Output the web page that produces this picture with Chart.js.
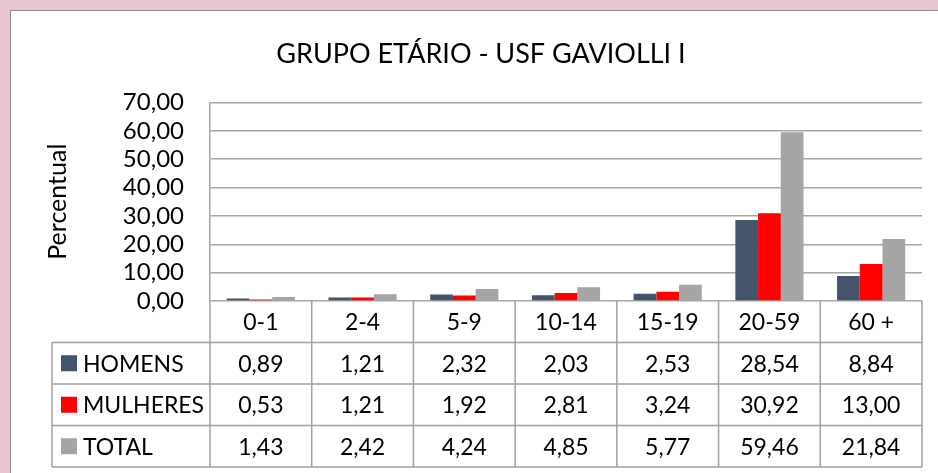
<!DOCTYPE html>
<html>
<head>
<meta charset="utf-8">
<script src="https://cdn.jsdelivr.net/npm/chart.js"></script>
<style>
  body { margin: 0; background: #e8c6d1; }
  .panel { position: absolute; left: 10px; top: 10px; width: 940px; height: 470px; background: #fff; border: 1.5px solid #8c8c8c; }
  canvas { position: absolute; left: 0; top: 0; }
</style>
</head>
<body>
<div class="panel"></div>
<canvas id="grafico" width="938" height="473"></canvas>
<script>
// dados do grafico
const faixas = ['0-1', '2-4', '5-9', '10-14', '15-19', '20-59', '60 +'];
const homens = [0.89, 1.21, 2.32, 2.03, 2.53, 28.54, 8.84];
const mulheres = [0.53, 1.21, 1.92, 2.81, 3.24, 30.92, 13.00];
const total = [1.43, 2.42, 4.24, 4.85, 5.77, 59.46, 21.84];
const series = ['HOMENS', 'MULHERES', 'TOTAL'];
const cores = ['#44546a', '#ff0000', '#a5a5a5'];

const fonte = 'Lato';
const linha = '#a6a6a6';

function fmt(v) {
    return v.toFixed(2).replace('.', ',');
}

// tabela de dados embaixo do grafico
const tabela = {
    id: 'tabela',
    afterDraw(chart) {
        const ctx = chart.ctx;
        const area = chart.chartArea;
        const x = chart.scales.x;
        const w = area.width / faixas.length;
        const rowH = 41.5;
        const top = area.bottom;
        const left = 52;
        const valores = [homens, mulheres, total];

        ctx.save();
        ctx.strokeStyle = '#a0a0a0';
        ctx.lineWidth = 1.5;
        ctx.beginPath();
        // horizontais
        for (let r = 1; r <= 4; r++) {
            ctx.moveTo(left, top + r * rowH);
            ctx.lineTo(area.right, top + r * rowH);
        }
        // verticais
        for (let i = 0; i <= faixas.length; i++) {
            const xx = area.left + i * w;
            ctx.moveTo(xx, top);
            ctx.lineTo(xx, top + 4 * rowH);
        }
        ctx.moveTo(left, top + rowH);
        ctx.lineTo(left, top + 4 * rowH);
        ctx.stroke();

        ctx.fillStyle = '#000';
        ctx.font = '23px ' + fonte;
        ctx.textBaseline = 'middle';
        ctx.textAlign = 'center';
        faixas.forEach((f, i) => {
            const cx = x.getPixelForValue(i);
            ctx.fillText(f, cx, top + rowH / 2 + 1);
            valores.forEach((vals, s) => {
                ctx.fillText(fmt(vals[i]), cx, top + (s + 1.5) * rowH + 1);
            });
        });

        ctx.textAlign = 'left';
        series.forEach((nome, s) => {
            const cy = top + (s + 1.5) * rowH;
            ctx.fillStyle = cores[s];
            ctx.fillRect(61, cy - 8, 16, 16);
            ctx.fillStyle = '#000';
            ctx.fillText(nome, 83, cy + 1);
        });
        ctx.restore();
    }
};

new Chart(document.getElementById('grafico'), {
    type: 'bar',
    data: {
        labels: faixas,
        datasets: [
            { label: series[0], data: homens, backgroundColor: cores[0] },
            { label: series[1], data: mulheres, backgroundColor: cores[1] },
            { label: series[2], data: total, backgroundColor: cores[2] }
        ]
    },
    options: {
        responsive: false,
        animation: false,
        datasets: {
            bar: { barPercentage: 1, categoryPercentage: 0.67 }
        },
        layout: { padding: { left: 40, right: 16, top: 0, bottom: 172 } },
        plugins: {
            legend: { display: false },
            tooltip: { enabled: false },
            title: {
                display: true,
                text: 'GRUPO ETÁRIO - USF GAVIOLLI I',
                color: '#000',
                font: { family: fonte, size: 27, weight: 'normal' },
                padding: { top: 38, bottom: 32 }
            }
        },
        scales: {
            x: { display: false },
            y: {
                min: 0,
                max: 70,
                afterFit(scale) { scale.width = 170; },
                ticks: {
                    stepSize: 10,
                    autoSkip: false,
                    color: '#000',
                    padding: 26,
                    font: { family: fonte, size: 24 },
                    callback: (v) => fmt(v)
                },
                grid: { color: linha, lineWidth: 1.5, drawTicks: false },
                border: { display: true, color: linha, width: 1.5 },
                title: {
                    display: true,
                    text: 'Percentual',
                    color: '#000',
                    font: { family: fonte, size: 25 },
                    padding: { top: 3, bottom: 0 }
                }
            }
        }
    },
    plugins: [tabela]
});
</script>
</body>
</html>
